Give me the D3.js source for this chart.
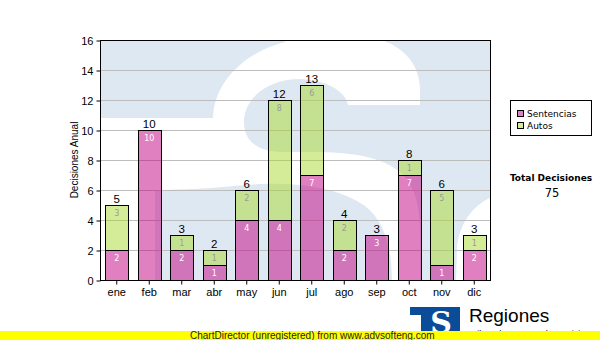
<!DOCTYPE html>
<html>
<head>
<meta charset="utf-8">
<script src="https://cdn.jsdelivr.net/npm/d3@7/dist/d3.min.js"></script>
<style>
  html, body { margin: 0; padding: 0; background: #fff; }
  svg { display: block; }
</style>
</head>
<body>
<svg id="chart" width="600" height="340"></svg>
<script>
// Monthly decisions, split by type
const months = ["ene", "feb", "mar", "abr", "may", "jun", "jul", "ago", "sep", "oct", "nov", "dic"];
const sentencias = [2, 10, 2, 1, 4, 4, 7, 2, 3, 7, 1, 2];
const autos = [3, 0, 1, 1, 2, 8, 6, 2, 0, 1, 5, 1];
const yTicks = [0, 2, 4, 6, 8, 10, 12, 14, 16];
const seriesNames = ["Sentencias", "Autos"];
const totalTitle = "Total Decisiones";
const yTitle = "Decisiones Anual";

const svg = d3.select("#chart");
const plot = { left: 100.5, top: 40.5, right: 490.5, bottom: 280.5 };

const x = d3.scaleBand().domain(months).range([plot.left, plot.right]).padding(0);
const y = d3.scaleLinear().domain([0, 16]).range([plot.bottom, plot.top]);
const barW = 23;

const pinkFill = "rgba(193, 1, 129, 0.5)";
const greenFill = "rgba(169, 217, 49, 0.5)";
const watermarkBlue = "#dee8f2";

// clip for the plot background
svg.append("defs").append("clipPath").attr("id", "plotClip")
  .append("rect")
  .attr("x", plot.left).attr("y", plot.top)
  .attr("width", plot.right - plot.left).attr("height", plot.bottom - plot.top);

// Background emblem: pale blue block with a white "S" and notch
const bg = svg.append("g").attr("clip-path", "url(#plotClip)");
bg.append("rect")
  .attr("x", plot.left).attr("y", plot.top)
  .attr("width", plot.right - plot.left).attr("height", plot.bottom - plot.top)
  .attr("fill", watermarkBlue);
bg.append("path")
  .attr("fill", "#fff")
  .attr("d",
    "M100,118 L213,118 C214,82 245,52 285,42 L285,36 L362,36 " +
    "C400,40 420,62 420,90 L420,105 L348,105 " +
    "C345,90 325,80 300,79 C268,79 244,98 244,122 " +
    "C244,142 258,152 285,152 C330,152 372,150 400,172 " +
    "C415,186 420,206 420,232 L420,284 L392,284 " +
    "C392,248 385,222 365,206 C340,188 300,182 260,184 " +
    "C230,186 200,190 155,190 L155,284 L100,284 Z");
bg.append("path")
  .attr("fill", "#fff")
  .attr("d", "M494,196 C474,204 460,222 457,246 L456,284 L494,284 Z");

// gridlines
svg.append("g").selectAll("line")
  .data(yTicks.filter(d => d > 0 && d < 16))
  .join("line")
  .attr("x1", plot.left).attr("x2", plot.right)
  .attr("y1", d => Math.round(y(d) - 0.5) + 0.5)
  .attr("y2", d => Math.round(y(d) - 0.5) + 0.5)
  .attr("stroke", "#bdbdbd").attr("stroke-width", 1);

// stacked bars
const rows = months.map((m, i) => ({ m, s: sentencias[i], a: autos[i], t: sentencias[i] + autos[i] }));
const barX = d => Math.round(x(d.m) + x.bandwidth() / 2 - barW / 2) + 0.5;
const cx = d => x(d.m) + x.bandwidth() / 2;

const bars = svg.append("g");
bars.selectAll("rect.s").data(rows).join("rect")
  .attr("class", "s")
  .attr("x", barX).attr("width", barW)
  .attr("y", d => y(d.s)).attr("height", d => y(0) - y(d.s))
  .attr("fill", pinkFill).attr("stroke", "#000").attr("stroke-width", 1);
bars.selectAll("rect.a").data(rows.filter(d => d.a > 0)).join("rect")
  .attr("class", "a")
  .attr("x", barX).attr("width", barW)
  .attr("y", d => y(d.t)).attr("height", d => y(d.s) - y(d.t))
  .attr("fill", greenFill).attr("stroke", "#000").attr("stroke-width", 1);

// segment value labels
const segFont = "DejaVu Sans, Verdana, sans-serif";
bars.selectAll("text.sv").data(rows.filter(d => d.s > 0)).join("text")
  .attr("class", "sv")
  .attr("x", cx).attr("y", d => y(d.s) + 10)
  .attr("text-anchor", "middle")
  .attr("font-family", segFont).attr("font-size", 8)
  .attr("fill", "#fff")
  .text(d => d.s);
bars.selectAll("text.av").data(rows.filter(d => d.a > 0)).join("text")
  .attr("class", "av")
  .attr("x", cx).attr("y", d => y(d.t) + 10)
  .attr("text-anchor", "middle")
  .attr("font-family", segFont).attr("font-size", 8)
  .attr("fill", "#9a9a9a")
  .text(d => d.a);

// totals above bars
bars.selectAll("text.tot").data(rows).join("text")
  .attr("class", "tot")
  .attr("x", cx).attr("y", d => y(d.t) - 3)
  .attr("text-anchor", "middle")
  .attr("font-family", "Liberation Sans, Arial, sans-serif").attr("font-size", 11.5)
  .attr("fill", "#000")
  .text(d => d.t);

// plot frame
svg.append("rect")
  .attr("x", plot.left).attr("y", plot.top)
  .attr("width", plot.right - plot.left).attr("height", plot.bottom - plot.top)
  .attr("fill", "none").attr("stroke", "#000").attr("stroke-width", 1);

// axes
const axisFont = "Liberation Sans, Arial, sans-serif";
const yAxis = svg.append("g")
  .attr("transform", `translate(${plot.left},0)`)
  .call(d3.axisLeft(y).tickValues(yTicks).tickSize(4).tickPadding(3).tickFormat(d3.format("d")));
yAxis.select(".domain").remove();
yAxis.selectAll("text").attr("font-family", axisFont).attr("font-size", 11).attr("fill", "#000");
yAxis.selectAll("line").attr("stroke", "#000");

const xAxis = svg.append("g")
  .attr("transform", `translate(0,${plot.bottom})`)
  .call(d3.axisBottom(x).tickSize(4).tickPadding(4));
xAxis.select(".domain").remove();
xAxis.selectAll("text").attr("font-family", axisFont).attr("font-size", 11).attr("fill", "#000");
xAxis.selectAll("line").attr("stroke", "#000");

svg.append("text")
  .attr("transform", "translate(77.5,160) rotate(-90)")
  .attr("text-anchor", "middle")
  .attr("font-family", axisFont).attr("font-size", 10)
  .attr("fill", "#000")
  .text(yTitle);

// legend
const legFont = "DejaVu Sans, Verdana, sans-serif";
const legend = svg.append("g");
legend.append("rect")
  .attr("x", 510.5).attr("y", 100.5).attr("width", 81).attr("height", 35)
  .attr("fill", "#fff").attr("stroke", "#000");
const legColors = ["#e080c0", "#d4ec98"];
seriesNames.forEach((name, i) => {
  legend.append("rect")
    .attr("x", 517.5).attr("y", 110.5 + i * 12).attr("width", 6).attr("height", 6)
    .attr("fill", legColors[i]).attr("stroke", "#000");
  legend.append("text")
    .attr("x", 527).attr("y", 117 + i * 12)
    .attr("font-family", legFont).attr("font-size", 9)
    .attr("fill", "#000")
    .text(name);
});

// grand total
const grandTotal = d3.sum(sentencias) + d3.sum(autos);
svg.append("text")
  .attr("x", 551).attr("y", 181)
  .attr("text-anchor", "middle")
  .attr("font-family", legFont).attr("font-size", 9).attr("font-weight", "bold")
  .attr("fill", "#000")
  .text(totalTitle);
svg.append("text")
  .attr("x", 552).attr("y", 197)
  .attr("text-anchor", "middle")
  .attr("font-family", legFont).attr("font-size", 11.5)
  .attr("fill", "#000")
  .text(grandTotal);

// footer emblem
const logo = svg.append("g");
logo.append("defs").append("clipPath").attr("id", "logoClip")
  .append("rect").attr("x", 410).attr("y", 307).attr("width", 50).attr("height", 26);
const lg = logo.append("g").attr("clip-path", "url(#logoClip)");
lg.append("rect").attr("x", 410).attr("y", 307).attr("width", 50).attr("height", 26).attr("fill", "#0a4c97");
lg.append("rect").attr("x", 410).attr("y", 315).attr("width", 11).attr("height", 20).attr("fill", "#fff");
lg.append("text")
  .attr("x", 441).attr("y", 333)
  .attr("text-anchor", "middle")
  .attr("font-family", "DejaVu Serif, serif").attr("font-weight", "bold").attr("font-size", 30)
  .attr("fill", "#fff")
  .text("S");
logo.append("text")
  .attr("x", 469).attr("y", 322)
  .attr("font-family", axisFont).attr("font-size", 19)
  .attr("fill", "#000")
  .text("Regiones");
logo.append("text")
  .attr("x", 469).attr("y", 337)
  .attr("font-family", axisFont).attr("font-size", 9)
  .attr("fill", "#000")
  .text("Tribunal Supremo de Justicia");

// footer banner
svg.append("rect").attr("x", 0).attr("y", 331).attr("width", 600).attr("height", 9).attr("fill", "#ffff00");
svg.append("text")
  .attr("x", 190).attr("y", 338.5)
  .attr("font-family", axisFont).attr("font-size", 10)
  .attr("fill", "#222")
  .text("ChartDirector (unregistered) from www.advsofteng.com");
</script>
</body>
</html>
